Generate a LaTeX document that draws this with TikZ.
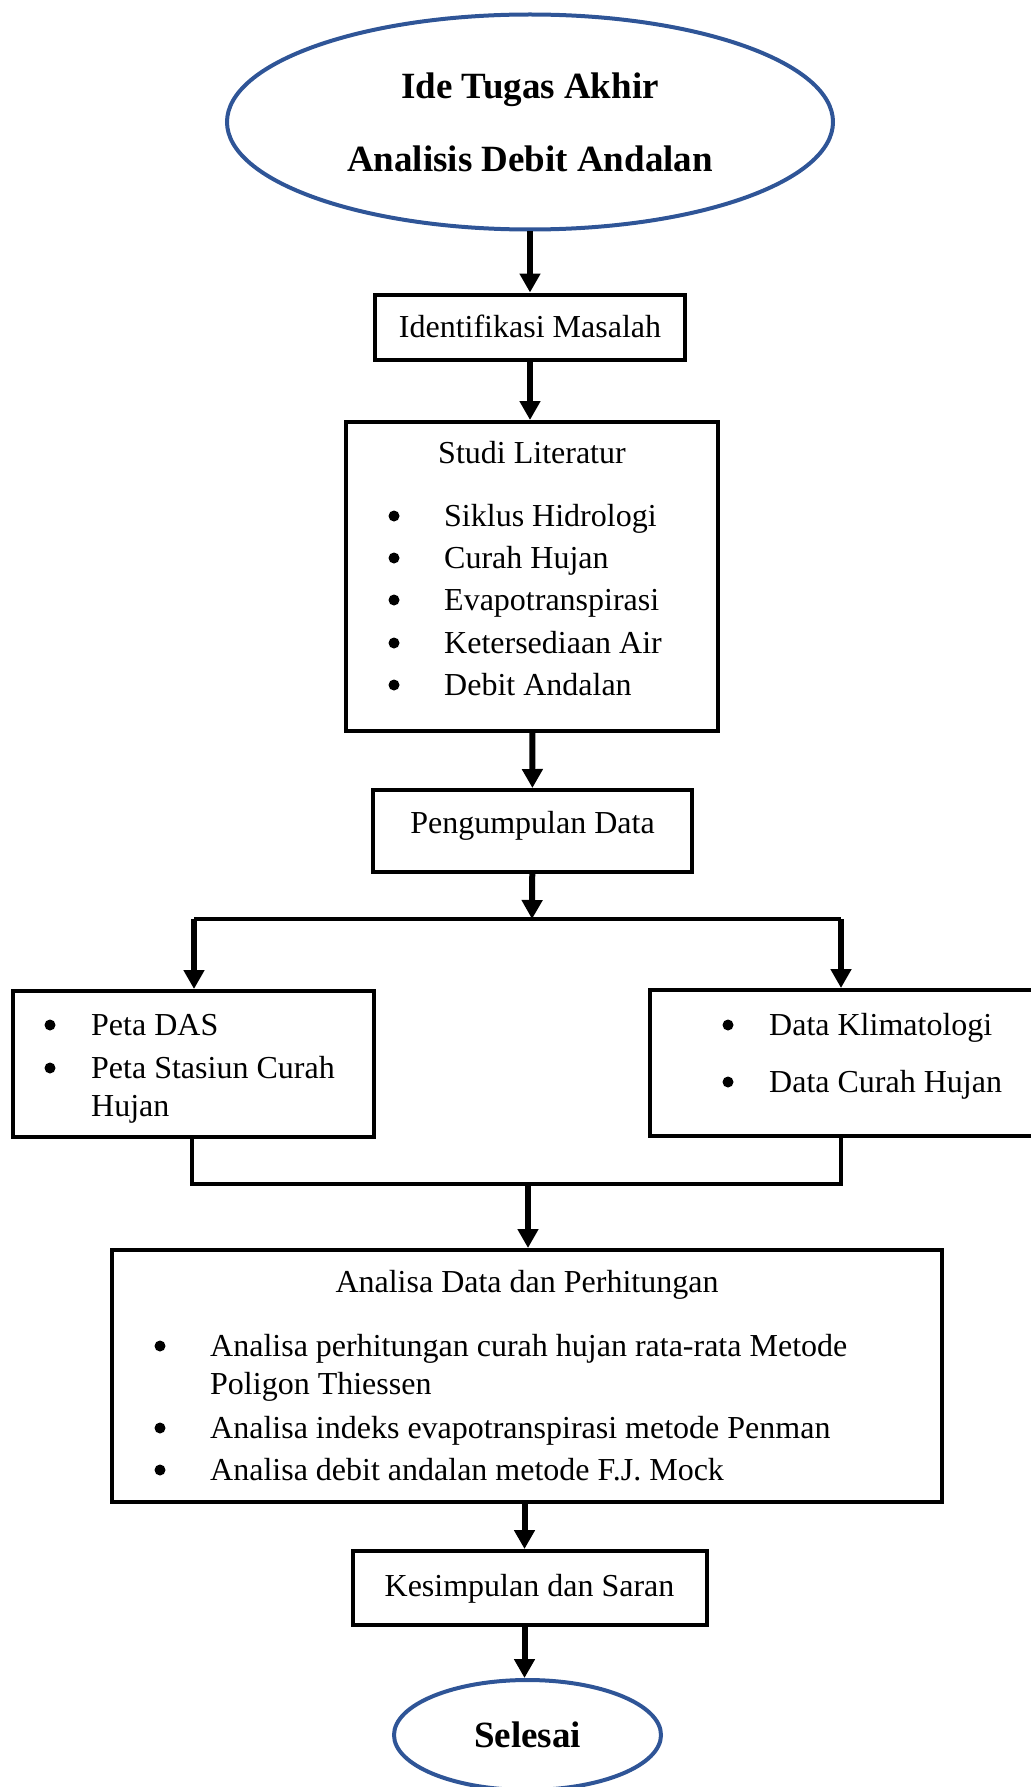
\documentclass[tikz,border=0pt]{standalone}
\usepackage{fontspec}
\setmainfont{Liberation Serif}
\usetikzlibrary{positioning, arrows.meta, shapes.geometric}
\usepackage{xcolor}
\definecolor{ovalblue}{RGB}{47,85,151}
\tikzset{
    oval/.style={
        ellipse,
        draw=ovalblue,
        line width=4pt,
        inner sep=0pt,
        align=center,
        font=\fontsize{37}{73}\selectfont\bfseries
    },
    box/.style={
        rectangle,
        draw=black,
        line width=4pt,
        inner sep=0pt,
        text height=22pt,
        text depth=2pt,
        font=\fontsize{32}{38}\selectfont
    },
    txt/.style={
        inner sep=0pt,
        anchor=base west,
        font=\fontsize{32}{38}\selectfont
    },
    ttl/.style={
        inner sep=0pt,
        anchor=base,
        font=\fontsize{32}{38}\selectfont
    },
    bul/.style={
        circle,
        fill=black,
        inner sep=0pt,
        minimum size=11pt
    },
    flow/.style={
        line width=6pt,
        -{Triangle[width=20pt,length=19pt]}
    },
    link/.style={
        line width=4.5pt
    }
}
\begin{document}
\begin{tikzpicture}[x=1pt, y=-1pt]
      \useasboundingbox (0,0) rectangle (1030,1787);

      \node[oval, minimum width=606pt, minimum height=215pt] (idea) at (530,122)
        {Ide Tugas Akhir\\Analisis Debit Andalan};
      \node[box, minimum width=310pt, minimum height=65pt] (ident) at (530,327) {Identifikasi Masalah};

      \node[box, minimum width=372pt, minimum height=309pt] (studi) at (532,576.5) {};
      \node[ttl] (studititle) at (532,463) {Studi Literatur};
      \node[bul] (sb1) at (394,516) {};
      \node[bul] (sb2) at (394,558) {};
      \node[bul] (sb3) at (394,600) {};
      \node[bul] (sb4) at (394,643) {};
      \node[bul] (sb5) at (394,685) {};
      \node[txt] (s1) at (444,526) {Siklus Hidrologi};
      \node[txt] (s2) at (444,568) {Curah Hujan};
      \node[txt] (s3) at (444,610) {Evapotranspirasi};
      \node[txt] (s4) at (444,653) {Ketersediaan Air};
      \node[txt] (s5) at (444,695) {Debit Andalan};

      \node[box, minimum width=319pt, minimum height=82pt, text depth=18pt] (kumpul) at (532.5,831) {Pengumpulan Data};

      \node[box, minimum width=361pt, minimum height=146pt] (peta) at (193.5,1064) {};
      \node[bul] (pb1) at (50,1025) {};
      \node[bul] (pb2) at (50,1068) {};
      \node[txt] (p1) at (91,1035) {Peta DAS};
      \node[txt] (p2) at (91,1078) {Peta Stasiun Curah};
      \node[txt] (p2b) at (91,1116) {Hujan};

      \node[box, minimum width=395pt, minimum height=146pt] (data) at (847.5,1063) {};
      \node[bul] (db1) at (728,1025) {};
      \node[bul] (db2) at (728,1082) {};
      \node[txt] (d1) at (769,1035) {Data Klimatologi};
      \node[txt] (d2) at (769,1092) {Data Curah Hujan};

      \node[box, minimum width=830pt, minimum height=252pt] (analisa) at (527,1376) {};
      \node[ttl] (analisatitle) at (527,1292) {Analisa Data dan Perhitungan};
      \node[bul] (ab1) at (160,1346) {};
      \node[bul] (ab2) at (160,1428) {};
      \node[bul] (ab3) at (160,1470) {};
      \node[txt] (a1) at (210,1356) {Analisa perhitungan curah hujan rata-rata Metode};
      \node[txt] (a1b) at (210,1394) {Poligon Thiessen};
      \node[txt] (a2) at (210,1438) {Analisa indeks evapotranspirasi metode Penman};
      \node[txt] (a3) at (210,1480) {Analisa debit andalan metode F.J. Mock};

      \node[box, minimum width=354pt, minimum height=74pt, text depth=6pt] (simpul) at (529.5,1588) {Kesimpulan dan Saran};
      \node[oval, minimum width=267pt, minimum height=110pt] (selesai) at (527.5,1735) {Selesai};

      \coordinate (split) at (532,919);
      \coordinate (splitL) at (194,919);
      \coordinate (splitR) at (841,919);
      \coordinate (join) at (528,1184);
      \coordinate (joinL) at (192,1184);
      \coordinate (joinR) at (841,1184);

      \draw[flow] (idea) -- (ident);
      \draw[flow] (ident.south) -- (ident.south |- studi.north);
      \draw[flow] (studi) -- (kumpul);
      \draw[flow] (kumpul) -- (split);
      \draw[link] (splitL) -- (splitR);
      \draw[flow] (splitL) -- (splitL |- peta.north);
      \draw[flow] (splitR) -- (splitR |- data.north);
      \draw[link] (joinL |- peta.south) -- (joinL) -- (joinR) -- (joinR |- data.south);
      \draw[flow] (join) -- (join |- analisa.north);
      \draw[flow] ([xshift=-5pt]simpul.north |- analisa.south) -- ([xshift=-5pt]simpul.north);
      \draw[flow] ([xshift=-5pt]simpul.south) -- ([xshift=-5pt]simpul.south |- selesai.north);
    \end{tikzpicture}
\end{document}
